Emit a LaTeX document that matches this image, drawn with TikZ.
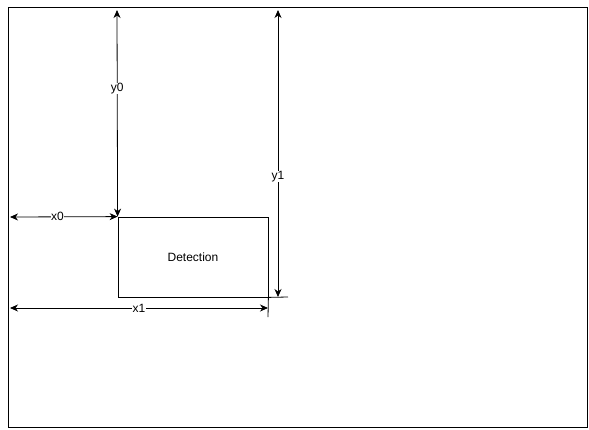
\documentclass[tikz,border=0pt]{standalone}
\usepackage{fontspec}
\setmainfont{Liberation Sans}
\usetikzlibrary{arrows.meta, positioning}

\begin{document}
\begin{tikzpicture}[x=1pt, y=-1pt,
  box/.style={draw, line width=0.8pt, rectangle, inner sep=0pt},
  dim/.style={{Stealth[length=8pt,width=7pt,inset=2.5pt]}-{Stealth[length=8pt,width=7pt,inset=2.5pt]}, line width=0.8pt},
  lbl/.style={fill=white, inner sep=0.5pt, font=\fontsize{12}{14}\selectfont}]
\useasboundingbox (0,0) rectangle (589,429);
\node[box, minimum width=579pt, minimum height=420pt] (frame) at (297.5,217.5) {};
\node[box, minimum width=150pt, minimum height=80pt, font=\fontsize{12}{14}\selectfont] (det) at (193,257) {Detection};

\coordinate (top0) at (117,10);
\coordinate (top1) at (278,10);
\coordinate (bot1) at (278,297);
\coordinate (left0) at (10,217);
\coordinate (left1) at (10,308);
\coordinate (right1) at (268,308);
\coordinate (tickh) at (288,297);
\coordinate (tickv) at (268,317);

\draw[dim] (top0) -- node[lbl, pos=0.38] {y0} (det.north west);
\draw[dim] (top1) -- node[lbl, pos=0.58] {y1} (bot1);
\draw[dim] (left0) -- node[lbl, pos=0.44] {x0} (det.north west);
\draw[dim] (left1) -- node[lbl] {x1} (right1);

\draw[line width=0.8pt] (det.south east) -- (tickh);
\draw[line width=0.8pt] (det.south east) -- (tickv);
\end{tikzpicture}
\end{document}
